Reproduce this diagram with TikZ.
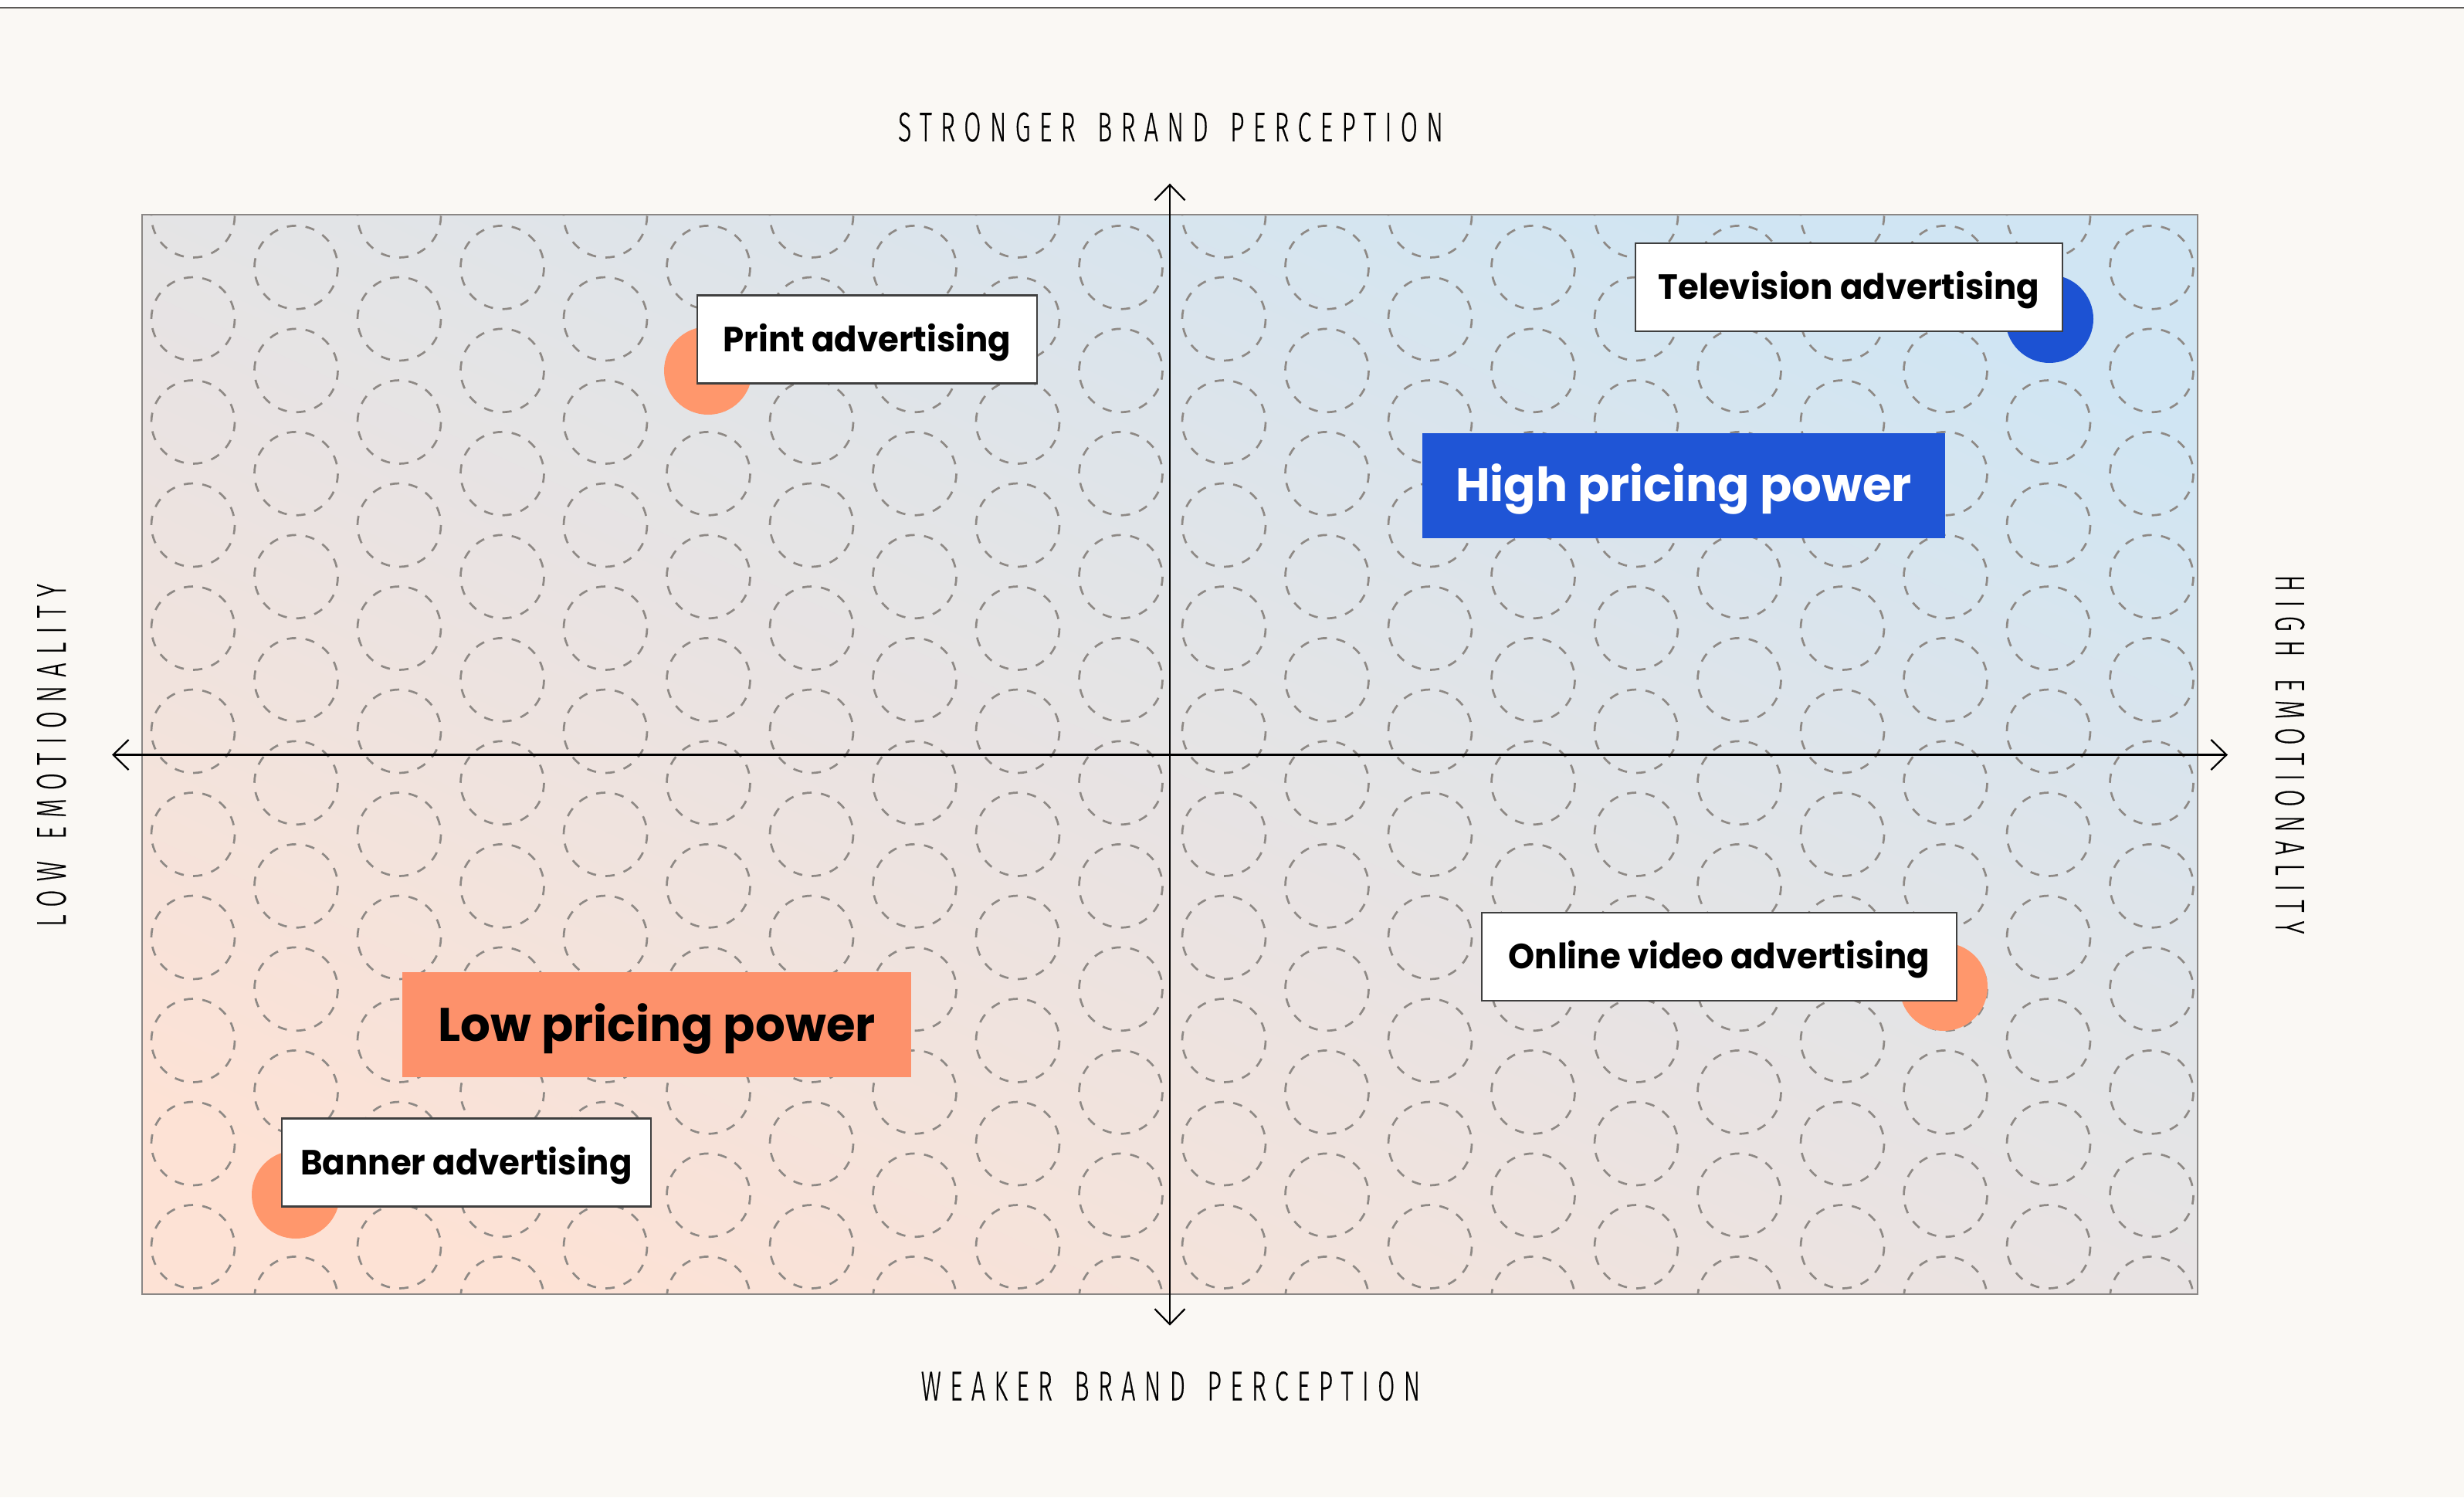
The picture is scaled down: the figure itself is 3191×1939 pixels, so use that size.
\documentclass[tikz,border=0pt]{standalone}
\usepackage{fontspec}
\usetikzlibrary{arrows.meta}

% fonts
\newfontfamily\axisfont{Fira Sans Light}[FakeStretch=0.6, FakeBold=0.4, LetterSpace=21, WordSpace=1.4]
\newfontfamily\tagfont{Poppins}[FakeStretch=0.96]
\newfontfamily\pricefont{Poppins}

% colours
\definecolor{pagebg}{HTML}{FAF8F4}
\definecolor{rulegray}{HTML}{5C5A58}
\definecolor{framegray}{HTML}{8A8785}
\definecolor{dashgray}{HTML}{8E8985}
\definecolor{qpeach}{HTML}{FDE2D5}
\definecolor{qblue}{HTML}{D0E5F3}
\definecolor{accentblue}{HTML}{1F55D6}
\definecolor{dotblue}{HTML}{1C52D3}
\definecolor{accentorange}{HTML}{FD916B}
\definecolor{dotorange}{HTML}{FF976C}
\definecolor{boxedge}{HTML}{3F3F3F}

% diagonal fade for the plot area
\pgfdeclareverticalshading{quadfade}{100bp}{color(0bp)=(qpeach); color(23bp)=(qpeach); color(76bp)=(qblue); color(100bp)=(qblue)}

\begin{document}
\begin{tikzpicture}[x=1pt, y=-1pt,
  axisline/.style={line width=2.2pt, black,
    {Straight Barb[length=20pt,width=39pt]}-{Straight Barb[length=20pt,width=39pt]}},
  axislabel/.style={inner sep=0pt, anchor=base,
    font=\axisfont\fontsize{53.7}{60}\selectfont},
  dashring/.style={dashgray, line width=2.7pt, dash pattern=on 12pt off 12.24pt},
  dot/.style={circle, inner sep=0pt, minimum size=114pt},
  tag/.style={draw=boxedge, line width=2.4pt, fill=white, inner sep=0pt,
    text height=31.5pt, text depth=0pt, minimum height=114pt,
    font=\tagfont\bfseries\fontsize{45.3}{50}\selectfont},
  price/.style={inner sep=0pt, text height=42.5pt, text depth=0pt,
    minimum height=136pt, font=\pricefont\bfseries\fontsize{61}{66}\selectfont}
]
\useasboundingbox (0,0) rectangle (3191,1939);

% page background and top rule
\fill[pagebg] (0,0) rectangle (3191,1939);
\fill[white] (0,0) rectangle (3191,9);
\coordinate (ruleL) at (0,10);
\coordinate (ruleR) at (3191,10);
\draw[rulegray, line width=2.2pt] (ruleL) -- (ruleR);

% plot area with dashed ring pattern
\coordinate (fa) at (184,278);
\coordinate (fb) at (2846,1676);
\shade[shading=quadfade, shading angle=-25] (fa) rectangle (fb);
\begin{scope}
  \clip (fa) rectangle (fb);
  \foreach \k in {0,...,19}{
    \foreach \j in {0,...,10}{
      \draw[dashring] ({250+133.5*\k},{279.5+133.5*\j+66.8*mod(\k,2)}) circle[radius=54];
    }
  }
\end{scope}
\draw[framegray, line width=2.5pt] (fa) rectangle (fb);

% axes
\coordinate (xl) at (145,977.5);
\coordinate (xr) at (2885,977.5);
\coordinate (yt) at (1515,237.7);
\coordinate (yb) at (1515,1716.7);
\draw[axisline] (xl) -- (xr);
\draw[axisline] (yb) -- (yt);

% axis captions
\node[axislabel] (top) at (1516,183) {STRONGER BRAND PERCEPTION};
\node[axislabel] (bottom) at (1516,1813.5) {WEAKER BRAND PERCEPTION};
\node[axislabel, rotate=90] (left) at (85,978) {LOW EMOTIONALITY};
\node[axislabel, rotate=-90] (right) at (2947,977) {HIGH EMOTIONALITY};

% markers
\node[dot, fill=dotorange] (printdot) at (917,480) {};
\node[dot, fill=dotblue] (tvdot) at (2654,413) {};
\node[dot, fill=dotorange] (videodot) at (2517,1278) {};
\node[dot, fill=dotorange] (bannerdot) at (383,1547) {};

% channel tags
\node[tag, minimum width=440pt] (print) at (1123,439.5) {Print advertising};
\node[tag, minimum width=553pt] (tv) at (2394.5,372) {Television advertising};
\node[tag, minimum width=615pt] (video) at (2226.5,1239) {Online video advertising};
\node[tag, minimum width=478pt] (banner) at (604,1505.5) {Banner advertising};

% pricing power labels
\node[price, fill=accentblue, text=white, minimum width=677pt] (high) at (2180.5,628.5) {High pricing power};
\node[price, fill=accentorange, text=black, minimum width=659pt] (low) at (850.5,1327) {Low pricing power};
\end{tikzpicture}
\end{document}
